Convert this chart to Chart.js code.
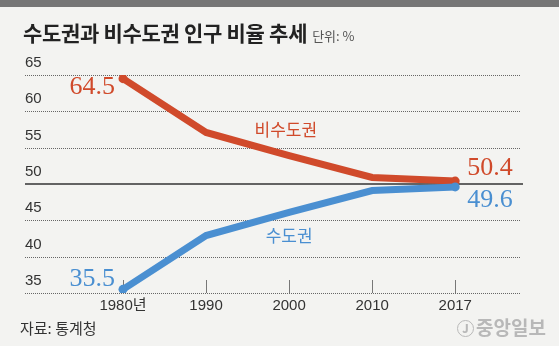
<!DOCTYPE html>
<html>
<head>
<meta charset="utf-8">
<script src="https://cdn.jsdelivr.net/npm/chart.js@4"></script>
<style>
  html, body { margin: 0; padding: 0; }
  body { width: 559px; height: 346px; background: #f3f3f1; position: relative; overflow: hidden;
         font-family: 'Noto Sans CJK KR', 'Noto Sans', sans-serif; }
  #topbar { position: absolute; left: 0; top: 0; width: 559px; height: 7px; background: #767676; }
  #title { position: absolute; left: 23px; top: 17px; font-size: 21px; font-weight: bold; color: #222; white-space: nowrap; letter-spacing: -0.3px; }
  #title span { font-size: 13px; font-weight: normal; color: #555; margin-left: 5px; letter-spacing: 0; }
  #source { position: absolute; left: 20px; top: 317px; font-size: 15px; color: #333; }
  #logo { position: absolute; left: 457px; top: 313px; font-size: 19px; color: #b8b8b8; font-weight: bold; white-space: nowrap; }
  #logo b { display: inline-block; width: 15px; height: 15px; border: 1.5px solid #b8b8b8; border-radius: 50%;
            font-size: 11px; line-height: 15px; text-align: center; margin-right: 2px; vertical-align: 2px; }
  #wrap { position: absolute; left: 0; top: 0; width: 559px; height: 346px; }
</style>
</head>
<body>
<div id="topbar"></div>
<div id="wrap"><canvas id="chart"></canvas></div>
<div id="title">수도권과 비수도권 인구 비율 추세<span>단위: %</span></div>
<div id="source">자료: 통계청</div>
<div id="logo"><b>J</b>중앙일보</div>
<script>
const years = ['1980년', '1990', '2000', '2010', '2017'];
const nonCapital = [64.5, 57.1, 53.9, 50.9, 50.4];
const capital = [35.5, 42.9, 46.1, 49.1, 49.6];
const yTicks = [35, 40, 45, 50, 55, 60, 65];

const RED = '#d04a2b';
const BLUE = '#4a8fd1';

const toPoints = arr => arr.map((v, i) => ({ x: i, y: v }));
const endsOnly = ctx => (ctx.dataIndex === 0 || ctx.dataIndex === years.length - 1) ? 4.5 : 0;

const extras = {
    id: 'extras',
    beforeDatasetsDraw(chart) {
        const { ctx, chartArea, scales } = chart;
        ctx.save();
        // dotted grid lines
        ctx.strokeStyle = '#666';
        ctx.lineWidth = 1;
        ctx.setLineDash([1, 1]);
        yTicks.forEach(v => {
            if (v === 50) return;
            const y = Math.round(scales.y.getPixelForValue(v)) + 0.5;
            ctx.beginPath();
            ctx.moveTo(chartArea.left, y);
            ctx.lineTo(chartArea.right, y);
            ctx.stroke();
        });
        ctx.setLineDash([]);
        // solid base line at 50
        const y50 = scales.y.getPixelForValue(50);
        ctx.strokeStyle = '#333';
        ctx.lineWidth = 1.5;
        ctx.beginPath();
        ctx.moveTo(chartArea.left, y50);
        ctx.lineTo(chartArea.right + 3, y50);
        ctx.stroke();
        // small tick marks on x axis
        ctx.strokeStyle = '#777';
        ctx.lineWidth = 1;
        years.forEach((_, i) => {
            const x = Math.round(scales.x.getPixelForValue(i)) + 0.5;
            ctx.beginPath();
            ctx.moveTo(x, chartArea.bottom);
            ctx.lineTo(x, chartArea.bottom - 13);
            ctx.stroke();
        });
        ctx.restore();
    },
    afterDatasetsDraw(chart) {
        const { ctx, scales } = chart;
        const last = years.length - 1;
        const red = chart.getDatasetMeta(1).data;
        const blue = chart.getDatasetMeta(0).data;
        ctx.save();
        ctx.textBaseline = 'middle';
        ctx.font = '26px "Liberation Serif", serif';
        ctx.fillStyle = RED;
        ctx.textAlign = 'right';
        ctx.fillText(nonCapital[0].toFixed(1), red[0].x - 8, red[0].y + 9);
        ctx.textAlign = 'left';
        ctx.fillText(nonCapital[last].toFixed(1), red[last].x + 12, red[last].y - 13);
        ctx.fillStyle = BLUE;
        ctx.textAlign = 'right';
        ctx.fillText(capital[0].toFixed(1), blue[0].x - 8, blue[0].y - 10);
        ctx.textAlign = 'left';
        ctx.fillText(capital[last].toFixed(1), blue[last].x + 12, blue[last].y + 13);
        // series names
        ctx.font = '17px "Noto Sans CJK KR", sans-serif';
        ctx.textAlign = 'center';
        ctx.fillStyle = RED;
        ctx.fillText('비수도권', scales.x.getPixelForValue(1.96), scales.y.getPixelForValue(57.5));
        ctx.fillStyle = BLUE;
        ctx.fillText('수도권', scales.x.getPixelForValue(2.0), scales.y.getPixelForValue(42.9));
        ctx.restore();
    }
};

new Chart(document.getElementById('chart'), {
    type: 'line',
    data: {
        datasets: [
            {
                label: '수도권',
                data: toPoints(capital),
                borderColor: BLUE,
                backgroundColor: BLUE,
                borderWidth: 7,
                pointRadius: endsOnly,
                pointBorderWidth: 0,
                tension: 0
            },
            {
                label: '비수도권',
                data: toPoints(nonCapital),
                borderColor: RED,
                backgroundColor: RED,
                borderWidth: 7,
                pointRadius: endsOnly,
                pointBorderWidth: 0,
                tension: 0
            }
        ]
    },
    options: {
        responsive: true,
        maintainAspectRatio: false,
        animation: false,
        layout: { padding: { left: 25, right: 39, top: 75, bottom: 35 } },
        plugins: { legend: { display: false }, tooltip: { enabled: false } },
        scales: {
            x: {
                type: 'linear',
                min: -1.18,
                max: 4.78,
                afterBuildTicks: axis => { axis.ticks = years.map((_, i) => ({ value: i })); },
                grid: { display: false },
                border: { display: false },
                ticks: {
                    callback: v => years[v],
                    color: '#333',
                    padding: -4,
                    maxRotation: 0,
                    font: { family: '"Liberation Sans", "Noto Sans CJK KR"', size: 15 }
                }
            },
            y: {
                min: 35,
                max: 65,
                afterBuildTicks: axis => { axis.ticks = yTicks.map(v => ({ value: v })); },
                grid: { drawTicks: false, color: 'rgba(0,0,0,0)' },
                border: { display: false },
                ticks: {
                    mirror: true,
                    padding: 0,
                    labelOffset: -12,
                    color: '#333',
                    font: { family: 'Liberation Sans', size: 15 }
                }
            }
        }
    },
    plugins: [extras]
});
</script>
</body>
</html>
